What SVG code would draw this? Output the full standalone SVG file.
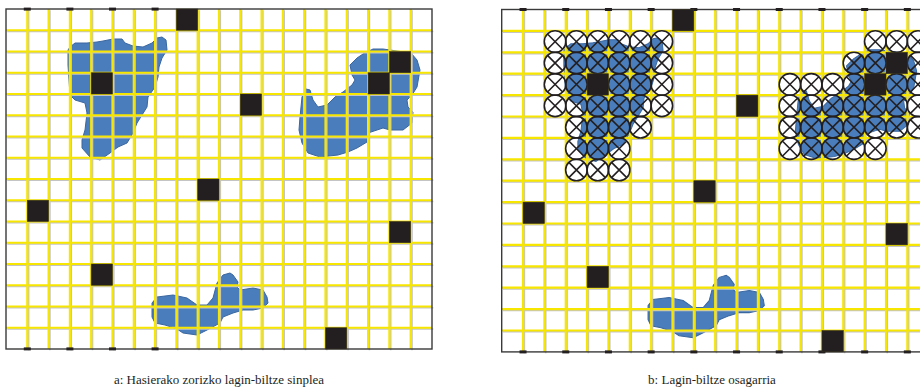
<svg xmlns="http://www.w3.org/2000/svg" xmlns:xlink="http://www.w3.org/1999/xlink" width="920" height="389" viewBox="0 0 920 389">
<style>
.shadow{fill:none;stroke:#c4c4c4;stroke-width:1.6}
.yl{fill:none;stroke:#f7e600;stroke-width:2.2}
.border{fill:none;stroke:#3a3a3a;stroke-width:1.4}
.tick{fill:#231f20}
.sq{fill:#231f20;stroke:#3b3520;stroke-width:0.6}
.blob{fill:#4a7dbb;stroke:#3a67a0;stroke-width:1}
.ring{fill:none;stroke:#231f20;stroke-width:1.6}
.cap{font-family:"Liberation Serif","Times New Roman",serif;font-size:13px;fill:#231f20;text-anchor:middle}
</style>
<defs>
<path id="blob1" d="M68,50 L70,47 75,43 87,43 97,42 103,41 113,39 122,39 125,43 133,46 143,47 152,43 157,38 162,37 166,40 167,50 162,58 159,67 158,77 155,87 148,97 147,107 142,115 137,123 133,133 127,143 118,147 110,153 100,160 90,157 82,148 82,140 85,130 87,113 85,103 75,100 70,95 69,80 68,65 Z"/>
<path id="blob2" d="M300,117 L299,130 302,143 308,153 320,157 338,155 348,152 357,148 367,142 368,133 377,130 383,128 390,130 403,130 412,123 413,112 408,107 407,100 412,95 417,87 420,70 417,60 411,53 390,50 383,49 373,49 363,54 357,58 350,65 352,75 355,80 352,85 343,92 335,97 327,105 318,107 313,100 310,90 306,89 302,97 Z"/>
<path id="blob3" d="M152,303 L157,297 173,295 187,298 197,305 207,305 213,298 217,283 223,275 230,273 233,275 238,282 237,287 240,290 253,288 263,290 267,297 268,303 263,308 253,310 243,310 233,313 223,317 220,323 207,330 197,335 183,333 177,329 165,325 155,323 152,317 Z"/>
<path id="ox" d="M-10.8,0a10.8,10.8 0 1,0 21.6,0a10.8,10.8 0 1,0 -21.6,0M-7.6,-7.6L7.6,7.6M7.6,-7.6L-7.6,7.6"/>
<path id="gridLeft" d="M27.3 9V349M48.6 9V349M69.9 9V349M91.2 9V349M112.5 9V349M133.8 9V349M155.1 9V349M176.4 9V349M197.7 9V349M219 9V349M240.3 9V349M261.6 9V349M282.9 9V349M304.2 9V349M325.5 9V349M346.8 9V349M368.1 9V349M389.4 9V349M410.7 9V349M6 30.25H432M6 51.5H432M6 72.75H432M6 94H432M6 115.25H432M6 136.5H432M6 157.75H432M6 179H432M6 200.25H432M6 221.5H432M6 242.75H432M6 264H432M6 285.25H432M6 306.5H432M6 327.75H432"/>
<path id="gridRight" d="M523.05 9.5V351.9M544.4 9.5V351.9M565.75 9.5V351.9M587.1 9.5V351.9M608.45 9.5V351.9M629.8 9.5V351.9M651.15 9.5V351.9M672.5 9.5V351.9M693.85 9.5V351.9M715.2 9.5V351.9M736.55 9.5V351.9M757.9 9.5V351.9M779.25 9.5V351.9M800.6 9.5V351.9M821.95 9.5V351.9M843.3 9.5V351.9M864.65 9.5V351.9M886 9.5V351.9M907.35 9.5V351.9M501.7 30.9H930M501.7 52.3H930M501.7 73.7H930M501.7 95.1H930M501.7 116.5H930M501.7 137.9H930M501.7 159.3H930M501.7 180.7H930M501.7 202.1H930M501.7 223.5H930M501.7 244.9H930M501.7 266.3H930M501.7 287.7H930M501.7 309.1H930M501.7 330.5H930"/>
<g id="rings">
<use xlink:href="#ox" x="555.08" y="41.6"/><use xlink:href="#ox" x="576.43" y="41.6"/><use xlink:href="#ox" x="597.78" y="41.6"/><use xlink:href="#ox" x="619.13" y="41.6"/><use xlink:href="#ox" x="640.48" y="41.6"/><use xlink:href="#ox" x="661.83" y="41.6"/>
<use xlink:href="#ox" x="555.08" y="63"/><use xlink:href="#ox" x="576.43" y="63"/><use xlink:href="#ox" x="597.78" y="63"/><use xlink:href="#ox" x="619.13" y="63"/><use xlink:href="#ox" x="640.48" y="63"/><use xlink:href="#ox" x="661.83" y="63"/>
<use xlink:href="#ox" x="555.08" y="84.4"/><use xlink:href="#ox" x="576.43" y="84.4"/><use xlink:href="#ox" x="619.13" y="84.4"/><use xlink:href="#ox" x="640.48" y="84.4"/><use xlink:href="#ox" x="661.83" y="84.4"/>
<use xlink:href="#ox" x="555.08" y="105.8"/><use xlink:href="#ox" x="576.43" y="105.8"/><use xlink:href="#ox" x="597.78" y="105.8"/><use xlink:href="#ox" x="619.13" y="105.8"/><use xlink:href="#ox" x="640.48" y="105.8"/><use xlink:href="#ox" x="661.83" y="105.8"/>
<use xlink:href="#ox" x="576.43" y="127.2"/><use xlink:href="#ox" x="597.78" y="127.2"/><use xlink:href="#ox" x="619.13" y="127.2"/><use xlink:href="#ox" x="640.48" y="127.2"/>
<use xlink:href="#ox" x="576.43" y="148.6"/><use xlink:href="#ox" x="597.78" y="148.6"/><use xlink:href="#ox" x="619.13" y="148.6"/>
<use xlink:href="#ox" x="576.43" y="170"/><use xlink:href="#ox" x="597.78" y="170"/><use xlink:href="#ox" x="619.13" y="170"/>
<use xlink:href="#ox" x="875.33" y="41.6"/><use xlink:href="#ox" x="896.68" y="41.6"/><use xlink:href="#ox" x="918.03" y="41.6"/>
<use xlink:href="#ox" x="853.98" y="63"/><use xlink:href="#ox" x="875.33" y="63"/><use xlink:href="#ox" x="918.03" y="63"/>
<use xlink:href="#ox" x="789.93" y="84.4"/><use xlink:href="#ox" x="811.28" y="84.4"/><use xlink:href="#ox" x="832.63" y="84.4"/><use xlink:href="#ox" x="853.98" y="84.4"/><use xlink:href="#ox" x="896.68" y="84.4"/><use xlink:href="#ox" x="918.03" y="84.4"/>
<use xlink:href="#ox" x="789.93" y="105.8"/><use xlink:href="#ox" x="811.28" y="105.8"/><use xlink:href="#ox" x="832.63" y="105.8"/><use xlink:href="#ox" x="853.98" y="105.8"/><use xlink:href="#ox" x="875.33" y="105.8"/><use xlink:href="#ox" x="896.68" y="105.8"/><use xlink:href="#ox" x="918.03" y="105.8"/>
<use xlink:href="#ox" x="789.93" y="127.2"/><use xlink:href="#ox" x="811.28" y="127.2"/><use xlink:href="#ox" x="832.63" y="127.2"/><use xlink:href="#ox" x="853.98" y="127.2"/><use xlink:href="#ox" x="875.33" y="127.2"/><use xlink:href="#ox" x="896.68" y="127.2"/><use xlink:href="#ox" x="918.03" y="127.2"/>
<use xlink:href="#ox" x="789.93" y="148.6"/><use xlink:href="#ox" x="811.28" y="148.6"/><use xlink:href="#ox" x="832.63" y="148.6"/><use xlink:href="#ox" x="853.98" y="148.6"/><use xlink:href="#ox" x="875.33" y="148.6"/>
</g>
<mask id="ringMask" maskUnits="userSpaceOnUse" x="0" y="0" width="920" height="389">
<rect x="0" y="0" width="920" height="389" fill="#fff"/>
<use xlink:href="#rings" fill="#000" stroke="#000" stroke-width="1"/>
</mask>
</defs>
<rect width="920" height="389" fill="#fff"/>

<g id="panel-a">
<g id="blobs-a">
<use xlink:href="#blob1" class="blob"/>
<use xlink:href="#blob2" class="blob"/>
<use xlink:href="#blob3" class="blob"/>
</g>
<g id="grid-a">
<use xlink:href="#gridLeft" class="shadow" transform="translate(1.3,1.3)"/>
<use xlink:href="#gridLeft" class="yl"/>
<rect class="border" x="6" y="9" width="426" height="340"/>
<g class="tick">
<rect x="23.8" y="7.6" width="7" height="3"/><rect x="66.4" y="7.6" width="7" height="3"/><rect x="109" y="7.6" width="7" height="3"/><rect x="151.6" y="7.6" width="7" height="3"/>
<rect x="23.8" y="347.4" width="7" height="3"/><rect x="66.4" y="347.4" width="7" height="3"/><rect x="109" y="347.4" width="7" height="3"/><rect x="151.6" y="347.4" width="7" height="3"/>
</g>
</g>
<g id="squares-a" class="sq">
<rect x="176.4" y="9" width="21.3" height="21.25"/>
<rect x="91.2" y="72.75" width="21.3" height="21.25"/>
<rect x="240.3" y="94" width="21.3" height="21.25"/>
<rect x="368.1" y="72.75" width="21.3" height="21.25"/>
<rect x="389.4" y="51.5" width="21.3" height="21.25"/>
<rect x="197.7" y="179" width="21.3" height="21.25"/>
<rect x="27.3" y="200.25" width="21.3" height="21.25"/>
<rect x="91.2" y="264" width="21.3" height="21.25"/>
<rect x="389.4" y="221.5" width="21.3" height="21.25"/>
<rect x="325.5" y="327.75" width="21.3" height="21.25"/>
</g>
<text id="caption-a" class="cap" x="219" y="384">a: Hasierako zorizko lagin-biltze sinplea</text>
</g>

<g id="panel-b">
<g id="blobs-b" transform="translate(501.7,9.5) scale(1.00235,1.00706) translate(-6,-9)">
<use xlink:href="#blob1" class="blob"/>
<use xlink:href="#blob2" class="blob"/>
<use xlink:href="#blob3" class="blob"/>
</g>
<g id="grid-b" mask="url(#ringMask)">
<use xlink:href="#gridRight" class="shadow" transform="translate(1.3,1.3)"/>
<use xlink:href="#gridRight" class="yl"/>
</g>
<rect class="border" x="501.7" y="9.5" width="427" height="342.4"/>
<g class="tick">
<rect x="519.55" y="8" width="7" height="3"/><rect x="562.25" y="8" width="7" height="3"/><rect x="604.95" y="8" width="7" height="3"/><rect x="647.65" y="8" width="7" height="3"/><rect x="690.35" y="8" width="7" height="3"/><rect x="733.05" y="8" width="7" height="3"/><rect x="775.75" y="8" width="7" height="3"/><rect x="818.45" y="8" width="7" height="3"/><rect x="861.15" y="8" width="7" height="3"/><rect x="903.85" y="8" width="7" height="3"/>
<rect x="519.55" y="350.4" width="7" height="3"/><rect x="562.25" y="350.4" width="7" height="3"/><rect x="604.95" y="350.4" width="7" height="3"/><rect x="647.65" y="350.4" width="7" height="3"/><rect x="690.35" y="350.4" width="7" height="3"/><rect x="733.05" y="350.4" width="7" height="3"/><rect x="775.75" y="350.4" width="7" height="3"/><rect x="818.45" y="350.4" width="7" height="3"/><rect x="861.15" y="350.4" width="7" height="3"/><rect x="903.85" y="350.4" width="7" height="3"/>
</g>
<use id="rings-b" xlink:href="#rings" class="ring"/>
<g id="squares-b" class="sq">
<rect x="672.5" y="9.5" width="21.35" height="21.4"/>
<rect x="587.1" y="73.7" width="21.35" height="21.4"/>
<rect x="736.55" y="95.1" width="21.35" height="21.4"/>
<rect x="864.65" y="73.7" width="21.35" height="21.4"/>
<rect x="886" y="52.3" width="21.35" height="21.4"/>
<rect x="693.85" y="180.7" width="21.35" height="21.4"/>
<rect x="523.05" y="202.1" width="21.35" height="21.4"/>
<rect x="587.1" y="266.3" width="21.35" height="21.4"/>
<rect x="886" y="223.5" width="21.35" height="21.4"/>
<rect x="821.95" y="330.5" width="21.35" height="21.4"/>
</g>
<text id="caption-b" class="cap" x="712" y="384">b: Lagin-biltze osagarria</text>
</g>
</svg>
